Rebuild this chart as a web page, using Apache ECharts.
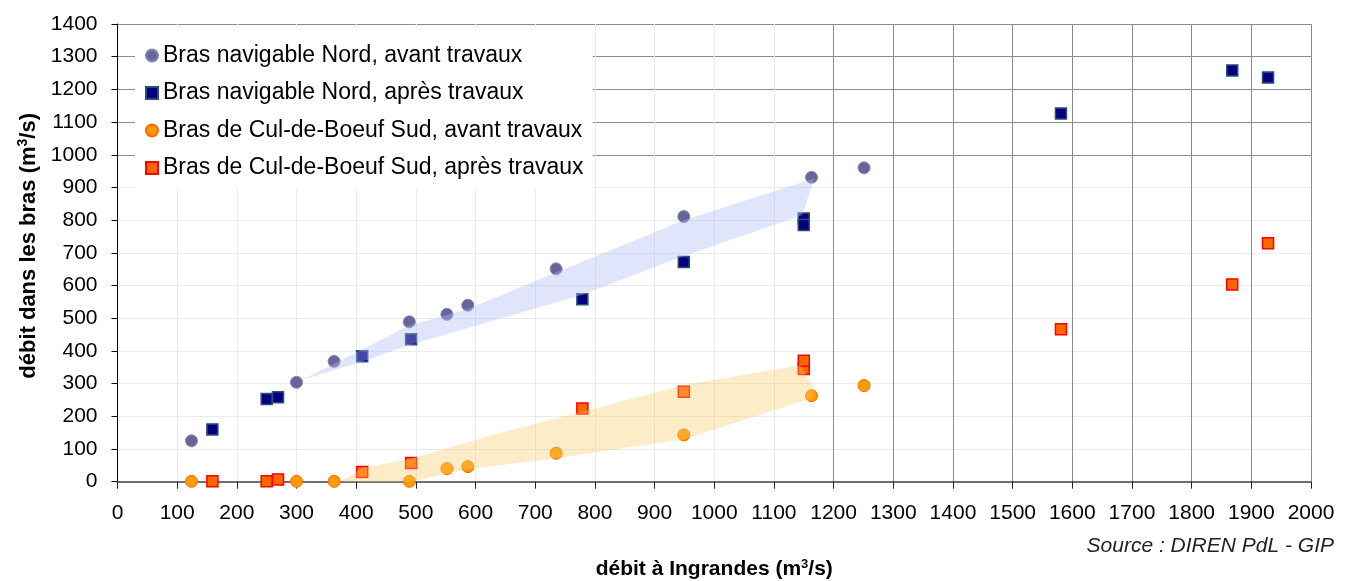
<!DOCTYPE html>
<html><head><meta charset="utf-8">
<script src="https://cdn.jsdelivr.net/npm/echarts@6/dist/echarts.min.js"></script>
<style>html,body{margin:0;padding:0;background:#fff}#c{width:1352px;height:581px}</style>
</head><body><div id="c"></div>
<script>
// ---- data ----
const seriesNames = [
  'Bras navigable Nord, avant travaux',
  'Bras navigable Nord, après travaux',
  'Bras de Cul-de-Boeuf Sud, avant travaux',
  'Bras de Cul-de-Boeuf Sud, après travaux'
];
// débit à Ingrandes (m3/s)
const xAvant = [124, 300, 363, 489, 552, 587, 735, 949, 1163, 1251];
const nordAvant = [125, 304, 368, 489, 512, 540, 651, 811, 931, 960];
const sudAvant = [1, 1, 1, 1, 40, 46, 87, 143, 263, 294];
const xApres = [159, 250, 269, 410, 492, 779, 949, 1150, 1150, 1581, 1868, 1928];
const nordApres = [160, 253, 258, 384, 436, 558, 672, 805, 785, 1126, 1258, 1236];
const sudApres = [1, 1, 7, 30, 57, 224, 275, 345, 370, 466, 603, 729];
// shaded bands (outline in data units)
const bandNord = [[309, 311], [489, 478], [587, 528], [735, 640], [949, 800], [1168, 928],
  [1147, 815], [949, 690], [779, 572], [492, 420], [410, 368]];
const bandSud = [[373, 0], [410, 42], [492, 70], [642, 150], [779, 214], [949, 296], [1144, 356],
  [1168, 283], [1163, 255], [949, 130], [735, 72], [587, 38], [489, 0]];
// tick labels
const xTicks = [0, 100, 200, 300, 400, 500, 600, 700, 800, 900, 1000, 1100, 1200, 1300, 1400, 1500, 1600, 1700, 1800, 1900, 2000];
const yTicks = [0, 100, 200, 300, 400, 500, 600, 700, 800, 900, 1000, 1100, 1200, 1300, 1400];

// ---- chart ----
const FONT = "'Liberation Sans', Arial, sans-serif";
const LIGHT = '#ebebeb', DARK = '#8c8c8c';
const pairs = (xs, ys) => xs.map((x, i) => [x, ys[i]]);
const bandSeries = (pts, fill) => ({
  type: 'custom', coordinateSystem: 'cartesian2d', z: 3, silent: true,
  data: [[0, 0]],
  renderItem: (params, api) => ({
    type: 'polygon',
    shape: { points: pts.map(p => api.coord(p)) },
    style: { fill: fill, stroke: null }
  })
});

const chart = echarts.init(document.getElementById('c'), null, { renderer: 'canvas' });
chart.setOption({
  animation: false,
  backgroundColor: '#fff',
  textStyle: { fontFamily: FONT },
  title: {
    text: 'Source : DIREN PdL - GIP', right: 18, top: 536, padding: 0,
    textStyle: { fontFamily: FONT, fontSize: 21, fontStyle: 'italic', fontWeight: 'normal', color: '#222' }
  },
  grid: { left: 117.5, right: 41, top: 24, bottom: 99.3, containLabel: false, outerBoundsMode: 'none' },
  legend: {
    data: seriesNames, orient: 'vertical', left: 135, top: 26,
    padding: [18, 9, 10, 10], backgroundColor: '#fff',
    itemWidth: 12, itemHeight: 12, itemGap: 14.5,
    textStyle: { fontFamily: FONT, fontSize: 23, lineHeight: 23, color: '#000' }
  },
  xAxis: {
    type: 'value', min: xTicks[0], max: xTicks[xTicks.length - 1], interval: xTicks[1] - xTicks[0],
    name: '{a|débit à Ingrandes (m}{s|3}{a|/s)}', nameLocation: 'middle', nameGap: 76,
    nameTextStyle: { rich: {
      a: { fontFamily: FONT, fontSize: 21, fontWeight: 'bold', color: '#000', lineHeight: 24 },
      s: { fontFamily: FONT, fontSize: 13, fontWeight: 'bold', color: '#000', verticalAlign: 'top', lineHeight: 14 }
    } },
    axisLine: { show: true, lineStyle: { color: '#444', width: 1.5 } },
    axisTick: { show: true, length: 7, lineStyle: { color: '#222' } },
    axisLabel: { fontFamily: FONT, fontSize: 21, color: '#000', margin: 21, formatter: v => String(v) },
    splitLine: { show: true, lineStyle: { color: xTicks.map(v => v >= 1200 ? DARK : LIGHT), width: 1 } }
  },
  yAxis: {
    type: 'value', min: yTicks[0], max: yTicks[yTicks.length - 1], interval: yTicks[1] - yTicks[0],
    name: '{a|débit dans les bras (m}{s|3}{a|/s)}', nameLocation: 'middle', nameGap: 53, nameRotate: 90,
    nameTextStyle: { padding: [0, 0, 0, 14], rich: {
      a: { fontFamily: FONT, fontSize: 22, fontWeight: 'bold', color: '#000', lineHeight: 25 },
      s: { fontFamily: FONT, fontSize: 14, fontWeight: 'bold', color: '#000', verticalAlign: 'top', lineHeight: 15 }
    } },
    axisLine: { show: true, lineStyle: { color: '#000', width: 1 } },
    axisTick: { show: true, length: 6, lineStyle: { color: '#000' } },
    axisLabel: { fontFamily: FONT, fontSize: 21, color: '#000', margin: 20, formatter: v => String(v) },
    splitLine: { show: true, lineStyle: { color: yTicks.map(v => v >= 1000 ? DARK : LIGHT), width: 1 } }
  },
  series: [
    { name: seriesNames[0], type: 'scatter', z: 2, symbol: 'circle', symbolSize: 12,
      itemStyle: { color: '#66669a', borderColor: '#8585b3', borderWidth: 1, opacity: 1 },
      data: pairs(xAvant, nordAvant) },
    { name: seriesNames[1], type: 'scatter', z: 2, symbol: 'rect', symbolSize: 11,
      itemStyle: { color: '#000080', borderColor: '#2c5070', borderWidth: 1.5, opacity: 1 },
      data: pairs(xApres, nordApres) },
    { name: seriesNames[2], type: 'scatter', z: 2, symbol: 'circle', symbolSize: 12,
      itemStyle: { color: '#ff9900', borderColor: '#ff6a00', borderWidth: 1, opacity: 1 },
      data: pairs(xAvant, sudAvant) },
    { name: seriesNames[3], type: 'scatter', z: 2, symbol: 'rect', symbolSize: 11,
      itemStyle: { color: '#ff6600', borderColor: '#ff0000', borderWidth: 1.5, opacity: 1 },
      data: pairs(xApres, sudApres) },
    bandSeries(bandNord, 'rgba(175,186,245,0.38)'),
    bandSeries(bandSud, 'rgba(250,204,106,0.37)')
  ]
});
</script></body></html>
